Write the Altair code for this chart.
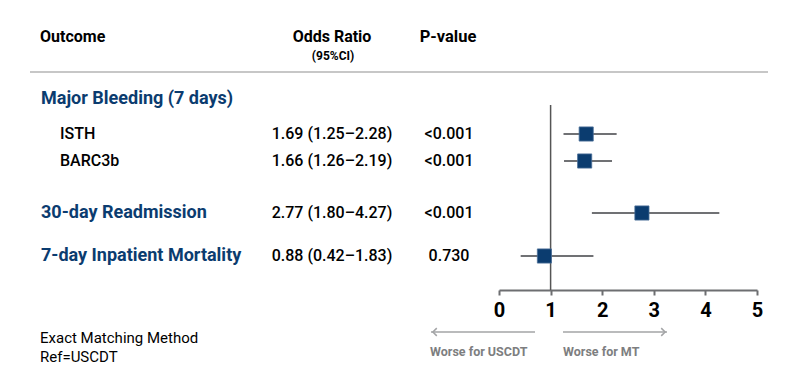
import altair as alt
import pandas as pd

# ---------------- data ----------------
outcomes = ["Major Bleeding (7 days)", "ISTH", "BARC3b", "30-day Readmission", "7-day Inpatient Mortality"]
is_group = [True, False, False, True, True]
odds_ratio = [None, 1.69, 1.66, 2.77, 0.88]
ci_low = [None, 1.25, 1.26, 1.80, 0.42]
ci_high = [None, 2.28, 2.19, 4.27, 1.83]
p_values = ["", "<0.001", "<0.001", "<0.001", "0.730"]
x_ticks = [0, 1, 2, 3, 4, 5]
ref_value = [1]
headers = ["Outcome", "Odds Ratio", "(95%CI)", "P-value"]
footnotes = ["Exact Matching Method", "Ref=USCDT"]
direction_labels = ["Worse for USCDT", "Worse for MT"]

# ---------------- layout (pixels, plot coordinates) ----------------
row_y = [91, 126, 153, 205, 248]
W, H = 784, 282
X_RANGE = [491, 749]
FONT = "Roboto"
NAVY = "#0b3c6f"
GRAY = "#6d6e71"

def fmt(v):
    return "" if v is None else f"{v:.2f}"

df = pd.DataFrame({
    "outcome": outcomes,
    "group": is_group,
    "or": odds_ratio,
    "lo": ci_low,
    "hi": ci_high,
    "p": p_values,
    "ypos": row_y,
})
df["or_text"] = [
    "" if o is None else f"{fmt(o)} ({fmt(l)}\u2013{fmt(h)})"
    for o, l, h in zip(odds_ratio, ci_low, ci_high)
]
est = df.dropna(subset=["or"])

xscale = alt.Scale(domain=[0, 5], range=X_RANGE)
xaxis = alt.Axis(values=x_ticks, grid=False, domainColor=GRAY, domainWidth=2,
                 tickColor=GRAY, tickWidth=2, tickSize=5, labelFont=FONT,
                 labelFontSize=20, labelFontWeight="bold", labelColor="black",
                 labelPadding=5, labelFlush=False, format="d", title=None)
Y = alt.Y("ypos:Q", scale=None, axis=None)


def label(text, x, y, size, weight="normal", color="black", align="left"):
    return alt.Chart(pd.DataFrame({"t": [text]})).mark_text(
        font=FONT, fontSize=size, fontWeight=weight, color=color,
        align=align, baseline="middle"
    ).encode(x=alt.value(x), y=alt.value(y), text="t:N")


header_layers = [
    label(headers[0], 32, 29, 16, "bold"),
    label(headers[1], 324, 29, 16, "bold", align="center"),
    label(headers[2], 325, 48, 12, "bold", align="center"),
    label(headers[3], 440, 29, 16.5, "bold", align="center"),
]

sep = alt.Chart(pd.DataFrame({"a": [0]})).mark_rule(color="#b5b5b5", strokeWidth=1.5).encode(
    x=alt.value(22), x2=alt.value(760), y=alt.value(64)
)

group_text = alt.Chart(df[df["group"]]).mark_text(
    font=FONT, fontSize=18, fontWeight="bold", color=NAVY, align="left", baseline="middle"
).encode(x=alt.value(33), y=Y, text="outcome:N")

sub_text = alt.Chart(df[~df["group"]]).mark_text(
    font=FONT, fontSize=16, fontWeight=500, color="black", align="left", baseline="middle"
).encode(x=alt.value(52), y=Y, text="outcome:N")

or_text = alt.Chart(est).mark_text(
    font=FONT, fontSize=16, fontWeight=500, color="black", align="center", baseline="middle"
).encode(x=alt.value(324), y=Y, text="or_text:N")

p_text = alt.Chart(est).mark_text(
    font=FONT, fontSize=16, fontWeight=500, color="black", align="center", baseline="middle"
).encode(x=alt.value(441), y=Y, text="p:N")

ref = alt.Chart(pd.DataFrame({"r": ref_value})).mark_rule(color="#555555", strokeWidth=1.5).encode(
    x=alt.X("r:Q", scale=xscale, axis=xaxis), y=alt.value(97), y2=alt.value(H)
)

ci = alt.Chart(est).mark_rule(color="#707174", strokeWidth=2).encode(
    x=alt.X("lo:Q", scale=xscale, axis=xaxis), x2="hi:Q", y=Y
)

pts = alt.Chart(est).mark_square(size=200, color=NAVY, opacity=1, stroke="#4a6f98", strokeWidth=0.8).encode(
    x=alt.X("or:Q", scale=xscale, axis=xaxis),
    y=Y,
)

foot_layers = [
    label(footnotes[0], 32, 330, 15),
    label(footnotes[1], 32, 349, 15),
    label(direction_labels[0], 422, 344, 12.5, "bold", "#7d7e80"),
    label(direction_labels[1], 555, 344, 12.5, "bold", "#7d7e80"),
]

ARROW_C = "#a3a4a6"
arrow_lines = alt.Chart(pd.DataFrame({"a": [0]})).mark_rule(color=ARROW_C, strokeWidth=1.5).encode(
    x=alt.value(423), x2=alt.value(527), y=alt.value(324)
) + alt.Chart(pd.DataFrame({"a": [0]})).mark_rule(color=ARROW_C, strokeWidth=1.5).encode(
    x=alt.value(555), x2=alt.value(659), y=alt.value(324)
)
left_head = alt.Chart(pd.DataFrame({"a": [0]})).mark_point(
    shape="M 0.2 -1 L -0.8 0 L 0.2 1", filled=False, color=ARROW_C, strokeWidth=1.5, size=60, opacity=1
).encode(x=alt.value(428), y=alt.value(324))
right_head = alt.Chart(pd.DataFrame({"a": [0]})).mark_point(
    shape="M -0.2 -1 L 0.8 0 L -0.2 1", filled=False, color=ARROW_C, strokeWidth=1.5, size=60, opacity=1
).encode(x=alt.value(654), y=alt.value(324))

chart = alt.layer(
    *header_layers, sep, group_text, sub_text, or_text, p_text,
    ref, ci, pts, *foot_layers, arrow_lines, left_head, right_head
).properties(
    width=W, height=H,
    padding={"left": 0, "top": 0, "right": 0, "bottom": 82},
    autosize=alt.AutoSizeParams(type="none"),
).configure(background="white").configure_view(stroke=None)

chart.save("out.html", embed_options={"renderer": "svg", "actions": False})
